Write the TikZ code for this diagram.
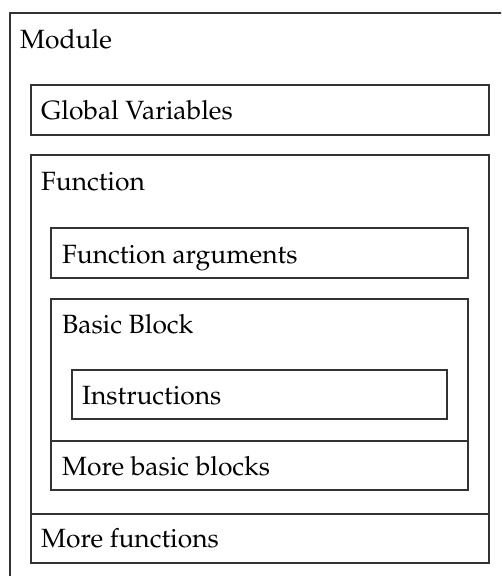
\documentclass[tikz,border=0pt]{standalone}
\usepackage[T1]{fontenc}
\usepackage{mathpazo}
\tikzset{
  frame/.style={draw=black!80, line width=1.1pt},
  label/.style={anchor=base west, inner sep=0pt, font=\fontsize{26.4}{31}\selectfont}
}
\begin{document}
\begin{tikzpicture}[x=1pt,y=-1pt]
  \useasboundingbox (0,0) rectangle (501,576);
  \clip (0,0) rectangle (501,576);
  % module (runs off the page to the right and bottom)
  \draw[frame] (10,13) rectangle (540,620);
  \node[label] (module) at (20,48) {Module};
  % global variables
  \draw[frame] (31,85) rectangle (489,135);
  \node[label] (globals) at (41,119) {Global Variables};
  % function and the following functions
  \draw[frame] (31,155) rectangle (489,514);
  \draw[frame] (31,514) rectangle (489,563);
  \node[label] (function) at (41,190) {Function};
  \node[label] (morefun) at (41,547) {More functions};
  % function arguments
  \draw[frame] (51,228) rectangle (468,278);
  \node[label] (args) at (62,263) {Function arguments};
  % basic block and the following blocks
  \draw[frame] (51,299) rectangle (468,441);
  \draw[frame] (51,441) rectangle (468,490);
  \node[label] (block) at (62,333) {Basic Block};
  \node[label] (moreblocks) at (62,475) {More basic blocks};
  % instructions
  \draw[frame] (72,370) rectangle (447,419);
  \node[label] (instr) at (82,404) {Instructions};
\end{tikzpicture}
\end{document}
